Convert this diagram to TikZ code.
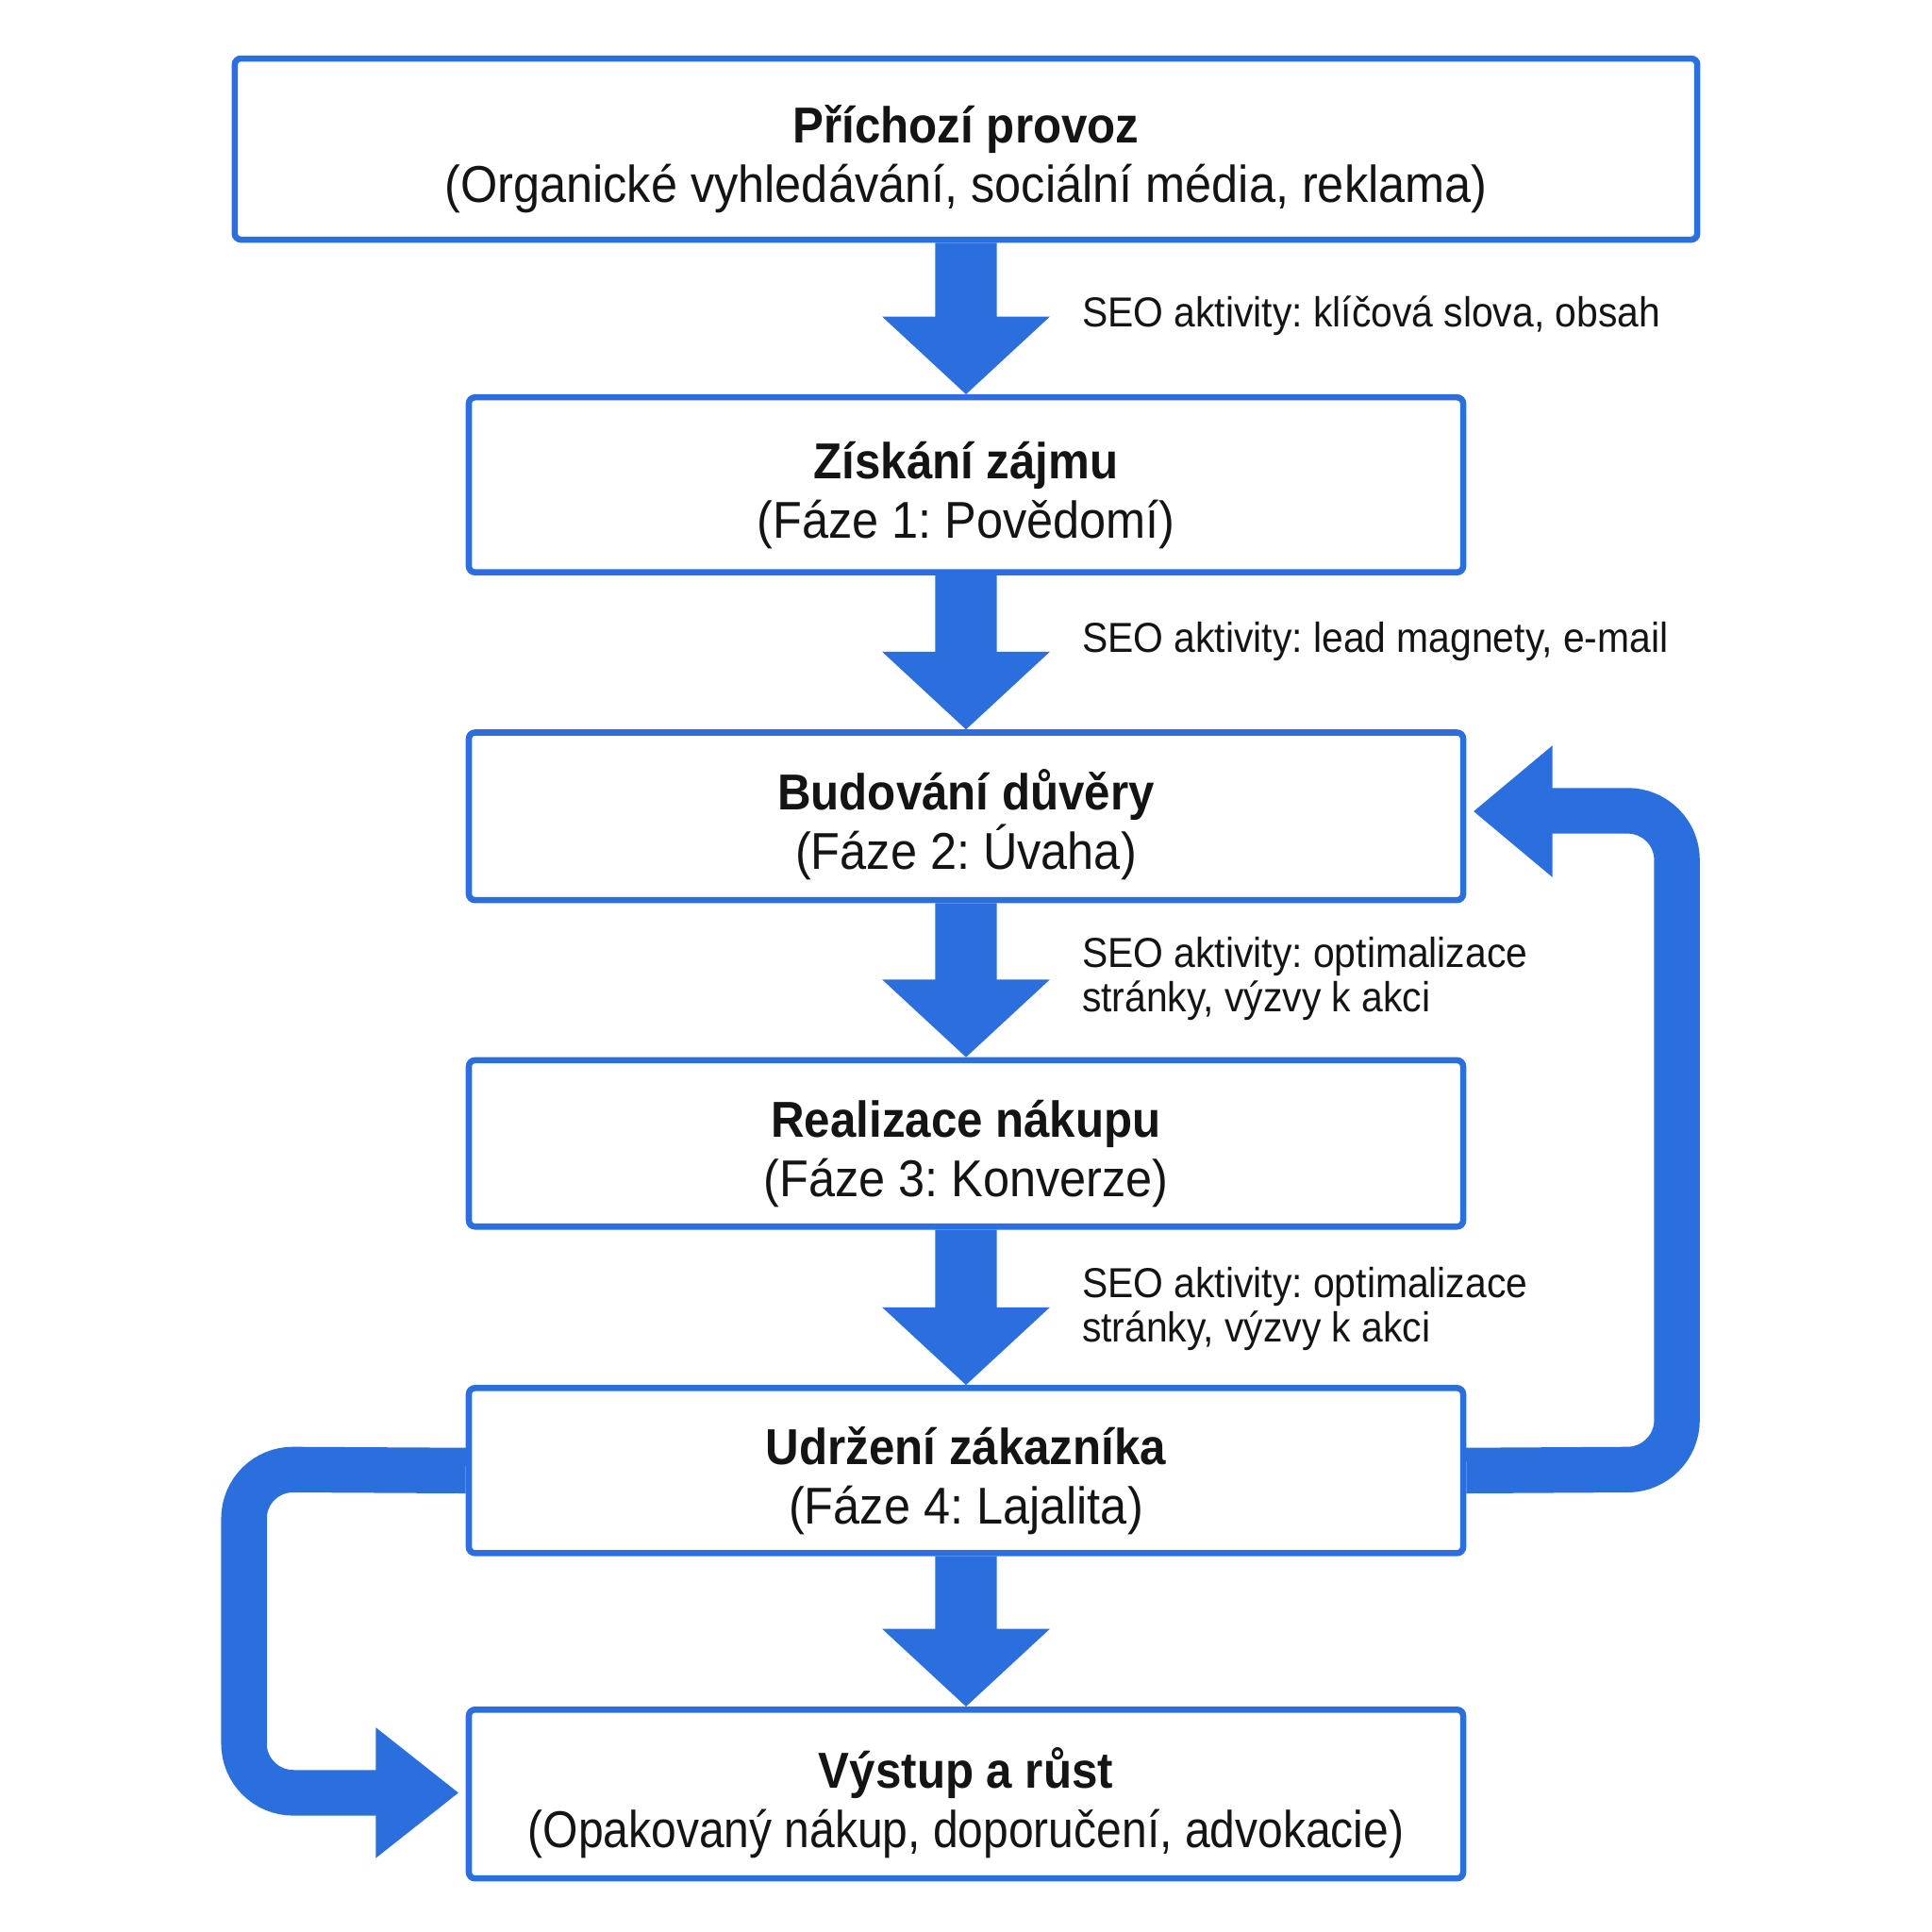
\documentclass[tikz,border=0pt]{standalone}
\usepackage{fontspec}
\setmainfont{Liberation Sans}[FakeStretch=0.92]
\usetikzlibrary{calc}
\definecolor{fblue}{HTML}{2A6FDD}
\definecolor{ink}{HTML}{141414}
\frenchspacing
\newcommand\flowarrow[2]{%
  \fill[fblue] ($(#1.south)+(-25,0)$) -- ($(#2.north)+(-25,-63)$) -- ($(#2.north)+(-68,-63)$) -- (#2.north)
    -- ($(#2.north)+(68,-63)$) -- ($(#2.north)+(25,-63)$) -- ($(#1.south)+(25,0)$) -- cycle;}
\newcommand\boxtitle[1]{\rule{0pt}{47pt}{\fontsize{41}{48}\selectfont\bfseries #1}}
\begin{document}
\begin{tikzpicture}[x=1pt,y=-1pt,
  box/.style={draw=fblue, line width=5pt, rounded corners=5pt, fill=white, align=center, text=ink,
    font=\fontsize{42}{48}\selectfont, inner sep=0pt},
  lbl/.style={anchor=west, align=left, text=ink, font=\fontsize{34}{36}\selectfont, inner sep=0pt},
  band/.style={draw=fblue, line width=37pt, rounded corners=40pt}]
\fill[fill=white] (0,0) rectangle (1568,1568);
\useasboundingbox (0,0) rectangle (1568,1568);

\node[box, minimum width=1187pt, minimum height=147pt] (b1) at (784,121)
  {\boxtitle{Příchozí provoz}\\(Organické vyhledávání, sociální média, reklama)};
\node[box, minimum width=807pt, minimum height=142pt] (b2) at (784,393.5)
  {\boxtitle{Získání zájmu}\\(Fáze 1: Povědomí)};
\node[box, minimum width=807pt, minimum height=136pt] (b3) at (784,662.5)
  {\boxtitle{Budování důvěry}\\(Fáze 2: Úvaha)};
\node[box, minimum width=807pt, minimum height=135pt] (b4) at (784,928)
  {\boxtitle{Realizace nákupu}\\(Fáze 3: Konverze)};
\node[box, minimum width=807pt, minimum height=134pt] (b5) at (784,1193.5)
  {\boxtitle{Udržení zákazníka}\\(Fáze 4: Lajalita)};
\node[box, minimum width=807pt, minimum height=137pt] (b6) at (784,1456)
  {\boxtitle{Výstup a růst}\\{\fontsize{42}{48}\selectfont\addfontfeature{FakeStretch=0.875}(Opakovaný nákup, doporučení, advokacie)}};

\flowarrow{b1}{b2}
\flowarrow{b2}{b3}
\flowarrow{b3}{b4}
\flowarrow{b4}{b5}
\flowarrow{b5}{b6}

\node[lbl] (l1) at (878,256) {SEO aktivity: klíčová slova, obsah};
\node[lbl] (l2) at (878,521) {SEO aktivity: lead magnety, e-mail};
\node[lbl] (l3) at (878,794) {SEO aktivity: optimalizace\\stránky, výzvy k akci};
\node[lbl] (l4) at (878,1062) {SEO aktivity: optimalizace\\stránky, výzvy k akci};

% feedback loop to trust building
\coordinate (r1) at (1361,1192.5);
\coordinate (r2) at (1361,658);
\coordinate (r3) at (1258,658);
\draw[band] (b5.east) -- (r1) -- (r2) -- (r3);
\fill[fblue] (1260,605) -- ($(b3.east)+(6,-4)$) -- (1260,712) -- cycle;

% loop to growth
\coordinate (q1) at (198,1192.5);
\coordinate (q2) at (198,1455);
\coordinate (q3) at (307,1455);
\draw[band] (b5.west) -- (q1) -- (q2) -- (q3);
\fill[fblue] (305,1402) -- ($(b6.west)+(-6,-1)$) -- (305,1508) -- cycle;
\end{tikzpicture}
\end{document}
